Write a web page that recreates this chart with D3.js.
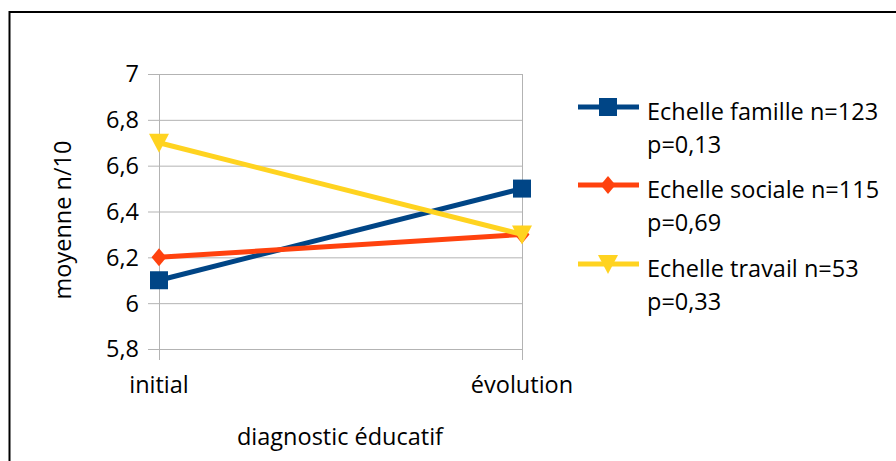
<!DOCTYPE html>
<html><head><meta charset="utf-8">
<script src="https://cdn.jsdelivr.net/npm/d3@7"></script>
<style>html,body{margin:0;padding:0;background:#fff;}svg{display:block;}</style>
</head><body>
<svg id="c" width="896" height="461"></svg>
<script>
const categories = ["initial", "évolution"];
const seriesNames = ["Echelle famille n=123", "Echelle sociale n=115", "Echelle travail n=53"];
const seriesSub = ["p=0,13", "p=0,69", "p=0,33"];
const famille = [6.1, 6.5];
const sociale = [6.2, 6.3];
const travail = [6.7, 6.3];
const yTicks = [5.8, 6, 6.2, 6.4, 6.6, 6.8, 7];
const yTickLabels = ["5,8", "6", "6,2", "6,4", "6,6", "6,8", "7"];
const colors = ["#004586", "#ff420e", "#ffd320"];
const markers = ["square", "diamond", "triangle"];
const yTitle = "moyenne n/10";
const xTitle = "diagnostic éducatif";

const series = [famille, sociale, travail];
const FONT = "'Open Sans', sans-serif";
const FS = 23.5;
const svg = d3.select("#c");

svg.append("rect").attr("x", 9.5).attr("y", 12).attr("width", 900).attr("height", 460)
  .attr("fill", "none").attr("stroke", "#000").attr("stroke-width", 2);

const x = d3.scalePoint().domain(categories).range([159, 522]);
const y = d3.scaleLinear().domain([5.8, 7]).range([349, 74]);
const grid = "#b3b3b3";

const g = svg.append("g");
yTicks.forEach((t, i) => {
  g.append("line").attr("x1", 148).attr("x2", 522).attr("y1", y(t) + 0.5).attr("y2", y(t) + 0.5)
    .attr("stroke", grid).attr("stroke-width", 1);
  g.append("text").attr("x", 139).attr("y", y(t)).attr("dy", "0.36em").attr("text-anchor", "end")
    .attr("font-family", FONT).attr("font-size", FS).attr("fill", "#000").text(yTickLabels[i]);
});
categories.forEach(c => {
  g.append("line").attr("x1", x(c) + 0.5).attr("x2", x(c) + 0.5).attr("y1", 74).attr("y2", 360)
    .attr("stroke", grid).attr("stroke-width", 1);
  g.append("text").attr("x", x(c)).attr("y", 393).attr("text-anchor", "middle")
    .attr("font-family", FONT).attr("font-size", FS).attr("fill", "#000").text(c);
});

svg.append("text").attr("transform", "translate(71,220) rotate(-90)").attr("text-anchor", "middle")
  .attr("font-family", FONT).attr("font-size", FS).attr("fill", "#000").text(yTitle);
svg.append("text").attr("x", 340).attr("y", 445).attr("text-anchor", "middle")
  .attr("font-family", FONT).attr("font-size", FS).attr("fill", "#000").text(xTitle);

function marker(sel, type, color) {
  if (type === "square") {
    sel.append("rect").attr("x", -9).attr("y", -9).attr("width", 18).attr("height", 18).attr("fill", color);
  } else if (type === "diamond") {
    sel.append("path").attr("d", "M0,-9L7.5,0L0,9L-7.5,0Z").attr("fill", color);
  } else {
    sel.append("path").attr("d", "M-10,-9L10,-9L0,10Z").attr("fill", color);
  }
}

const line = d3.line().x((d, i) => x(categories[i])).y(d => y(d));
series.forEach((s, k) => {
  svg.append("path").attr("d", line(s)).attr("fill", "none").attr("stroke", colors[k])
    .attr("stroke-width", 5);
  s.forEach((v, i) => {
    const m = svg.append("g").attr("transform", `translate(${x(categories[i])},${y(v)})`);
    marker(m, markers[k], colors[k]);
  });
});

const legY = [107, 185, 264];
seriesNames.forEach((n, k) => {
  const lg = svg.append("g").attr("transform", `translate(0,${legY[k]})`);
  lg.append("line").attr("x1", 578).attr("x2", 639).attr("y1", 0).attr("y2", 0)
    .attr("stroke", colors[k]).attr("stroke-width", 5);
  const m = lg.append("g").attr("transform", "translate(608,0)");
  marker(m, markers[k], colors[k]);
  lg.append("text").attr("x", 647).attr("y", 13).attr("font-family", FONT).attr("font-size", FS)
    .attr("fill", "#000").text(n);
  lg.append("text").attr("x", 647).attr("y", 46).attr("font-family", FONT).attr("font-size", FS)
    .attr("fill", "#000").text(seriesSub[k]);
});
</script>
</body></html>
